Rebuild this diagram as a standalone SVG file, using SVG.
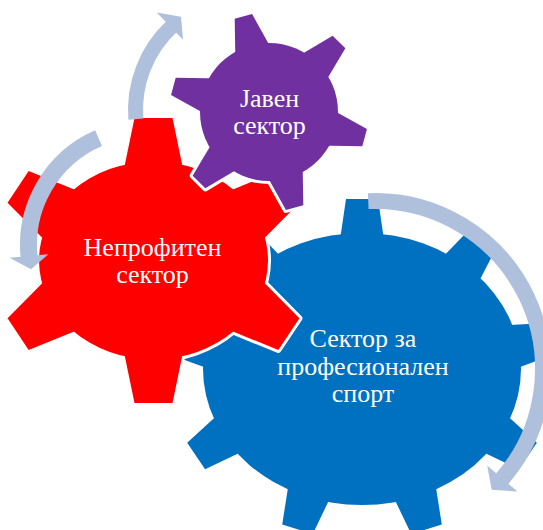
<svg xmlns="http://www.w3.org/2000/svg" xmlns:xlink="http://www.w3.org/1999/xlink" width="543" height="530" viewBox="0 0 543 530">
  <style>
    .label { font-family: "Liberation Serif", "Times New Roman", serif; font-size: 26px; fill: #FFFFFF; text-anchor: middle; }
    .halo { fill: #FFFFFF; stroke: #FFFFFF; stroke-width: 6; stroke-linejoin: round; }
    .band { fill: none; stroke: #AFC0DC; stroke-linecap: butt; }
    .head { fill: #AFC0DC; stroke: none; }
  </style>
  <defs>
    <!-- teeth drawn pointing up, base on the root line at y=0 -->
    <polygon id="toothBlue" points="-22.8,12 -21,0 -16,-34 16,-34 21,0 22.8,12"/>
    <polygon id="toothRed" points="-31,15 -28,0 -19,-43.5 19,-43.5 28,0 31,15"/>
    <polygon id="toothPurple" points="-19,10 -16.5,0 -9,-30 9,-30 16.5,0 19,10"/>

    <!-- nine-tooth gear -->
    <g id="shapeBlue">
      <ellipse cx="362" cy="369" rx="159" ry="136"/>
      <use xlink:href="#toothBlue" transform="translate(362,233)"/>
      <use xlink:href="#toothBlue" transform="translate(464.2,264.8) rotate(35.7)"/>
      <use xlink:href="#toothBlue" transform="translate(518.6,345.4) rotate(78.35)"/>
      <use xlink:href="#toothBlue" transform="translate(499.7,437) rotate(124)"/>
      <use xlink:href="#toothBlue" transform="translate(416.4,496.8) rotate(162.7)"/>
      <use xlink:href="#toothBlue" transform="translate(307.6,496.8) rotate(-162.7)"/>
      <use xlink:href="#toothBlue" transform="translate(224.3,437) rotate(-124)"/>
      <use xlink:href="#toothBlue" transform="translate(205.4,345.4) rotate(-78.35)"/>
      <use xlink:href="#toothBlue" transform="translate(259.8,264.8) rotate(-35.7)"/>
    </g>

    <!-- six-tooth gear, stretched body -->
    <g id="shapeRed">
      <ellipse cx="153.5" cy="260.5" rx="114.5" ry="99"/>
      <use xlink:href="#toothRed" transform="translate(153.5,161.5)"/>
      <use xlink:href="#toothRed" transform="translate(252.7,211) rotate(56.3)"/>
      <use xlink:href="#toothRed" transform="translate(252.7,310) rotate(123.7)"/>
      <use xlink:href="#toothRed" transform="translate(153.5,359.5) rotate(180)"/>
      <use xlink:href="#toothRed" transform="translate(54.3,310) rotate(-123.7)"/>
      <use xlink:href="#toothRed" transform="translate(54.3,211) rotate(-56.3)"/>
    </g>

    <!-- small six-tooth gear, turned slightly -->
    <g id="shapePurple">
      <circle cx="269" cy="112" r="69"/>
      <g transform="translate(269,112)">
        <use xlink:href="#toothPurple" transform="rotate(-15) translate(0,-69)"/>
        <use xlink:href="#toothPurple" transform="rotate(45) translate(0,-69)"/>
        <use xlink:href="#toothPurple" transform="rotate(105) translate(0,-69)"/>
        <use xlink:href="#toothPurple" transform="rotate(165) translate(0,-69)"/>
        <use xlink:href="#toothPurple" transform="rotate(225) translate(0,-69)"/>
        <use xlink:href="#toothPurple" transform="rotate(285) translate(0,-69)"/>
      </g>
    </g>
  </defs>

  <rect width="543" height="530" fill="#FFFFFF"/>

  <g id="gear-professional-sport">
    <use xlink:href="#shapeBlue" fill="#0070C0"/>
    <text class="label" x="363" y="347">Сектор за</text>
    <text class="label" x="363" y="375">професионален</text>
    <text class="label" x="363" y="402">спорт</text>
  </g>

  <g id="gear-nonprofit">
    <use xlink:href="#shapeRed" class="halo"/>
    <use xlink:href="#shapeRed" fill="#FF0000"/>
    <text class="label" x="152.5" y="256">Непрофитен</text>
    <text class="label" x="152.5" y="283">сектор</text>
  </g>

  <g id="gear-public">
    <use xlink:href="#shapePurple" class="halo"/>
    <use xlink:href="#shapePurple" fill="#7030A0"/>
    <text class="label" x="269.5" y="107">Јавен</text>
    <text class="label" x="269.5" y="134">сектор</text>
  </g>

  <g id="connectors">
    <!-- clockwise arrow around the large gear -->
    <path class="band" stroke-width="16" d="M368.26,201.13 A168,168 0 0 1 501.2,479.9"/>
    <polygon class="head" points="487.2,465.5 517.5,491.6 491.7,489.8"/>
    <!-- counter-clockwise arrow on the left of the red gear -->
    <path class="band" stroke-width="17" d="M98.55,138.16 A116.5,116.5 0 0 0 29.18,257.58"/>
    <polygon class="head" points="48.43,254.13 9.6,257.8 31.05,269.22"/>
    <!-- arrow rising toward the small gear -->
    <path class="band" stroke-width="15" d="M135.87,119.18 A114.5,114.5 0 0 1 171.91,26.26"/>
    <polygon class="head" points="183,39.87 156.73,12.4 181,16.75"/>
  </g>
</svg>
